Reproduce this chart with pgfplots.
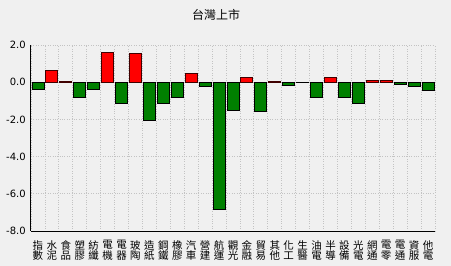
\documentclass[border=0pt]{standalone}
\usepackage{pgfplots}
\pgfplotsset{compat=1.18}
\usepackage{fontspec}
\setmainfont{DejaVu Sans}
\newfontfamily\cjk{Noto Sans CJK TC}
\definecolor{bg}{RGB}{240,240,240}
\definecolor{gridc}{RGB}{195,195,195}
\definecolor{barred}{RGB}{255,0,0}
\definecolor{bargreen}{RGB}{0,128,0}
\begin{document}
\begin{tikzpicture}
\path[fill=bg, use as bounding box] (0,0) rectangle (451bp,266bp);
\node[font=\cjk\fontsize{12bp}{14bp}\selectfont] at (216bp,250.7bp) {台灣上市};
\begin{axis}[
  at={(31bp,35bp)}, anchor=south west, scale only axis,
  width=404bp, height=186bp,
  xmin=0, xmax=29, ymin=-8, ymax=2,
  axis lines=left,
  axis line style={-, line width=1bp, black},
  ytick={-8,-6,-4,-2,0,2},
  yticklabels={-8.0,-6.0,-4.0,-2.0,0.0,2.0},
  yticklabel style={font=\fontsize{10bp}{12bp}\selectfont, inner sep=0pt, xshift=-3bp},
  xtick={0,...,29},
  xticklabels={},
  extra x ticks={0.5,1.5,...,28.5},
  extra x tick labels={{指\\數},{水\\泥},{食\\品},{塑\\膠},{紡\\纖},{電\\機},{電\\器},{玻\\陶},{造\\紙},{鋼\\鐵},{橡\\膠},{汽\\車},{營\\建},{航\\運},{觀\\光},{金\\融},{貿\\易},{其\\他},{化\\工},{生\\醫},{油\\電},{半\\導},{設\\備},{光\\電},{網\\通},{電\\零},{電\\通},{資\\服},{他\\電}},
  extra x tick style={grid=none, xticklabel style={font=\cjk\fontsize{10.5bp}{10.3bp}\selectfont, align=center, inner sep=0pt, yshift=-5bp}},
  tick style={draw=none},
  grid=major,
  major grid style={gridc, dotted, line width=0.8bp},
  ybar, bar width=12bp,
]
\addplot[bar shift=0pt, fill=barred, draw=black!75!red, line width=0.9bp] coordinates {
(1.5,0.65) (2.5,0.03) (5.5,1.61) (7.5,1.56) (11.5,0.48) (15.5,0.27) (17.5,0.04) (21.5,0.27) (24.5,0.1) (25.5,0.1)
};
\addplot[bar shift=0pt, fill=bargreen, draw=black, line width=0.9bp] coordinates {
(0.5,-0.40) (3.5,-0.81) (4.5,-0.38) (6.5,-1.13) (8.5,-2.04) (9.5,-1.13) (10.5,-0.81) (12.5,-0.22) (13.5,-6.83) (14.5,-1.50) (16.5,-1.56) (18.5,-0.16) (19.5,-0.04) (20.5,-0.81) (22.5,-0.81) (23.5,-1.13) (26.5,-0.10) (27.5,-0.22) (28.5,-0.43)
};
\end{axis}
\end{tikzpicture}
\end{document}
